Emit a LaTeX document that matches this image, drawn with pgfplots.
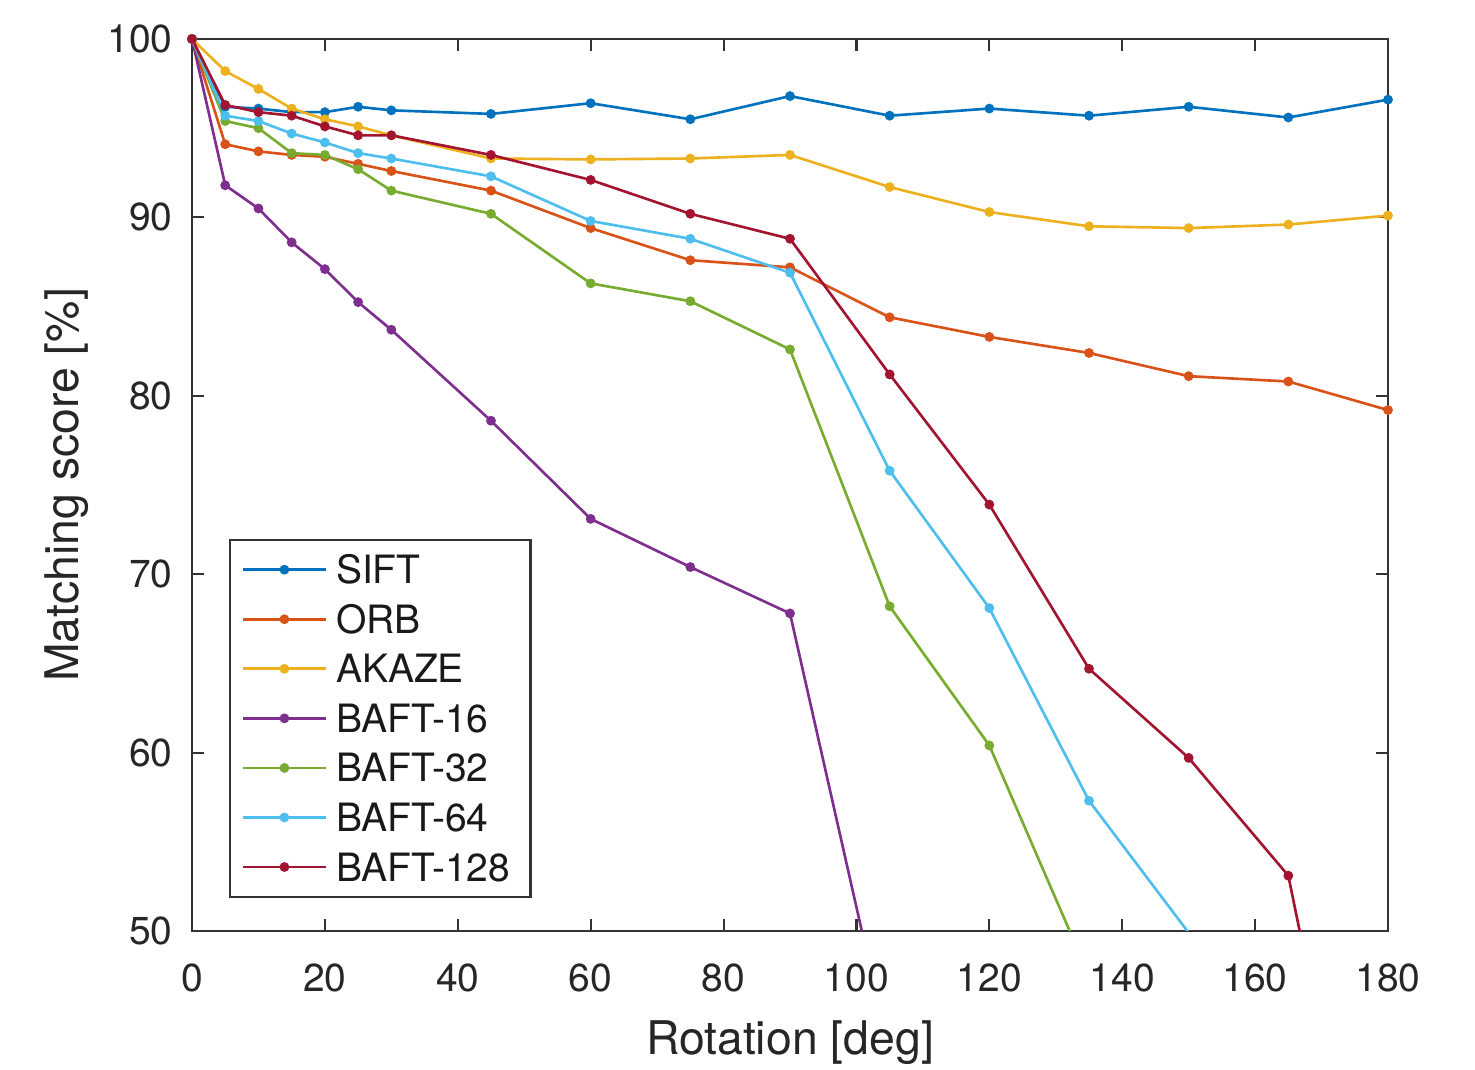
\documentclass[border=0pt]{standalone}
\usepackage{fontspec}
\setmainfont{TeX Gyre Heros}
\usepackage{pgfplots}
\pgfplotsset{compat=1.18}
\definecolor{mBlue}{HTML}{0072BD}
\definecolor{mOrange}{HTML}{D95319}
\definecolor{mYellow}{HTML}{EDB120}
\definecolor{mPurple}{HTML}{7E2F8E}
\definecolor{mGreen}{HTML}{77AC30}
\definecolor{mCyan}{HTML}{4DBEEE}
\definecolor{mRed}{HTML}{A2142F}
\begin{document}
\begin{tikzpicture}
\begin{axis}[name=ax,scale only axis,width=11.96cm,height=8.92cm,
    xmin=0,xmax=180,ymin=50,ymax=100,
    xtick={0,20,...,180},ytick={50,60,...,100},
    axis line style={black!80,line width=0.6pt},
    tick style={black!80,line width=0.6pt},major tick length=0.12cm,
    /pgf/number format/assume math mode=true,
    tick label style={font=\fontsize{11.1}{12}\selectfont,text=black!85},
    xticklabel style={yshift=-5.8pt},yticklabel style={xshift=-2pt},
    label style={font=\fontsize{13.2}{15}\selectfont,text=black!85},
    xlabel={Rotation [deg]},ylabel={Matching score [\%]},
    xlabel style={at={(axis description cs:0.5,0)},anchor=base,yshift=-1.24cm},
    ylabel style={at={(axis description cs:0,0.5)},anchor=center,yshift=1.253cm},
    every axis plot/.append style={line width=0.75pt,mark=*,mark size=1pt},
    legend image code/.code={\draw[mark indices={2}] plot coordinates {(0cm,0cm)(0.415cm,0cm)(0.83cm,0cm)};},
    legend cell align=left,
    legend style={at={(axis description cs:0.0309,0.4395)},anchor=north west,
      draw=black!80,line width=0.6pt,fill=white,text=black!90,
      font=\fontsize{11.1}{13}\selectfont,inner xsep=3.3pt,inner ysep=1.4pt,
      row sep=0pt,column sep=0pt,
      nodes={text height=11.05pt,text depth=3.05pt,inner ysep=0pt,inner xsep=2.5pt}},
    legend entries={SIFT,ORB,AKAZE,BAFT-16,BAFT-32,BAFT-64,BAFT-128}]
\addplot[mBlue] coordinates {(0,100)(5,96.2)(10,96.1)(15,95.9)(20,95.9)(25,96.2)(30,96.0)(45,95.8)(60,96.4)(75,95.5)(90,96.8)(105,95.7)(120,96.1)(135,95.7)(150,96.2)(165,95.6)(180,96.6)};
\addplot[mOrange] coordinates {(0,100)(5,94.1)(10,93.7)(15,93.5)(20,93.4)(25,93.0)(30,92.6)(45,91.5)(60,89.4)(75,87.6)(90,87.2)(105,84.4)(120,83.3)(135,82.4)(150,81.1)(165,80.8)(180,79.2)};
\addplot[mYellow] coordinates {(0,100)(5,98.2)(10,97.2)(15,96.1)(20,95.5)(25,95.1)(30,94.6)(45,93.3)(60,93.25)(75,93.3)(90,93.5)(105,91.7)(120,90.3)(135,89.5)(150,89.4)(165,89.6)(180,90.1)};
\addplot[mPurple,mark indices={1,2,3,4,5,6,7,8,9,10,11}] coordinates {(0,100)(5,91.8)(10,90.5)(15,88.6)(20,87.1)(25,85.25)(30,83.7)(45,78.6)(60,73.1)(75,70.4)(90,67.8)(105,43.1)};
\addplot[mGreen,mark indices={1,2,3,4,5,6,7,8,9,10,11,12,13}] coordinates {(0,100)(5,95.4)(10,95.0)(15,93.6)(20,93.5)(25,92.7)(30,91.5)(45,90.2)(60,86.3)(75,85.3)(90,82.6)(105,68.2)(120,60.4)(135,47.5)};
\addplot[mCyan,mark indices={1,2,3,4,5,6,7,8,9,10,11,12,13,14}] coordinates {(0,100)(5,95.7)(10,95.4)(15,94.7)(20,94.2)(25,93.6)(30,93.3)(45,92.3)(60,89.8)(75,88.8)(90,86.9)(105,75.8)(120,68.1)(135,57.3)(150,49.9)};
\addplot[mRed,mark indices={1,2,3,4,5,6,7,8,9,10,11,12,13,14,15,16}] coordinates {(0,100)(5,96.3)(10,95.9)(15,95.7)(20,95.1)(25,94.6)(30,94.6)(45,93.5)(60,92.1)(75,90.2)(90,88.8)(105,81.2)(120,73.9)(135,64.7)(150,59.7)(165,53.1)(180,25.8)};
\end{axis}
\pgfresetboundingbox
\path[use as bounding box] ([xshift=-1.92cm,yshift=-1.39cm]ax.south west) rectangle ([xshift=0.87cm,yshift=0.39cm]ax.north east);
\end{tikzpicture}
\end{document}
